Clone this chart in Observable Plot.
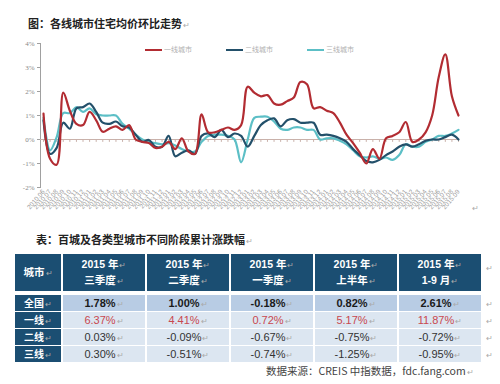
<!DOCTYPE html>
<html><head><meta charset="utf-8">
<script src="https://cdn.jsdelivr.net/npm/d3@7"></script>
<script src="https://cdn.jsdelivr.net/npm/@observablehq/plot@0.6"></script>
<style>
body{margin:0;background:#fff;}
#wrap{position:relative;width:500px;height:384px;overflow:hidden;font-family:"Noto Sans CJK SC","Liberation Sans",sans-serif;}
.abs{position:absolute;white-space:nowrap;}
.ret{color:#aaa;font-size:8px;font-weight:normal;margin-left:1px;}
#title{left:28px;top:15px;font-size:11px;font-weight:700;color:#222;}
#chart{position:absolute;left:0;top:30px;}
.leg{position:absolute;top:44px;font-size:7px;color:#b0b0b0;height:10px;line-height:10px;}
.leg i{display:inline-block;width:17px;height:2.5px;vertical-align:middle;margin-right:2px;}
#ttitle{left:36px;top:231px;font-size:11px;font-weight:700;color:#222;}
#tbl{position:absolute;left:15px;top:254px;display:grid;grid-template-columns:46px 82px 82px 82px 82px 82px;column-gap:2px;row-gap:1px;}
.hd{background:#1b4e72;color:#fff;font-weight:700;font-size:10.5px;height:37px;display:flex;flex-direction:column;justify-content:center;align-items:center;line-height:14px;margin-bottom:3px;}
.hd span{font-family:"Liberation Sans","Noto Sans CJK SC",sans-serif;}
.rl{background:#1b4e72;color:#fff;font-weight:700;font-size:10px;height:16px;line-height:16px;text-align:center;}
.dc{height:16px;line-height:16px;text-align:center;font-family:"Liberation Sans",sans-serif;font-size:11px;color:#333;background:#dce6f1;}
.dc.nat{background:#b8cce4;font-weight:700;color:#1a1a1a;}
.dc.red{color:#c8484f;}
#source{left:266px;top:363px;font-size:10.5px;color:#444;}
.rr{position:absolute;left:486px;color:#aaa;font-size:8px;}
</style></head><body>
<div id="wrap">
  <div id="title" class="abs">图：各线城市住宅均价环比走势<span class="ret">↵</span></div>
  <div id="chart"></div>
  <div id="legend"></div>
  <div class="abs" style="left:472px;top:202px;color:#aaa;font-size:8px;">↵</div>
  <div id="ttitle" class="abs">表：百城及各类型城市不同阶段累计涨跌幅<span class="ret">↵</span></div>
  <div id="tbl"></div>
  <div id="rets"></div>
  <div id="source" class="abs">数据来源：CREIS 中指数据，fdc.fang.com<span class="ret">↵</span></div>
</div>
<script>
// ---- chart data ----
const months = ["2010.06","2010.07","2010.08","2010.09","2010.10","2010.11","2010.12",
"2011.01","2011.02","2011.03","2011.04","2011.05","2011.06","2011.07","2011.08","2011.09","2011.10","2011.11","2011.12",
"2012.01","2012.02","2012.03","2012.04","2012.05","2012.06","2012.07","2012.08","2012.09","2012.10","2012.11","2012.12",
"2013.01","2013.02","2013.03","2013.04","2013.05","2013.06","2013.07","2013.08","2013.09","2013.10","2013.11","2013.12",
"2014.01","2014.02","2014.03","2014.04","2014.05","2014.06","2014.07","2014.08","2014.09","2014.10","2014.11","2014.12",
"2015.01","2015.02","2015.03","2015.04","2015.05","2015.06","2015.07","2015.08","2015.09"];
const seriesNames = ["一线城市","二线城市","三线城市"];
const seriesColors = ["#b22c32","#23506a","#5cbfc6"];
const tier1 = [1.08,-0.8,-1.05,1.95,1.2,0.65,0.6,1.15,0.8,0.32,
  0.45,0.55,0.4,0.6,0.0,-0.1,-0.15,-0.35,-0.3,-0.1,
  -0.4,0.05,-0.5,-0.6,1.05,0.3,0.3,0.4,0.5,0.4,
  0.6,2.2,1.95,1.8,1.85,1.5,1.45,1.6,1.75,2.4,
  2.3,1.3,1.35,1.2,1.1,0.7,0.2,-0.15,-0.55,-1.0,
  -0.4,-0.8,0.05,0.15,0.3,0.73,-0.1,0.0,0.3,1.0,
  2.6,3.55,1.8,1.0];
const tier2 = [0.8,-0.6,-0.35,0.7,0.45,1.3,1.35,1.5,1.15,0.7,
  0.65,0.75,0.55,0.5,0.2,-0.1,-0.02,-0.3,-0.3,0.15,
  -0.7,-0.55,-0.45,-0.6,0.15,0.25,0.1,0.4,0.1,0.25,
  0.15,-0.3,0.15,0.6,0.8,0.88,0.55,0.8,0.85,0.7,
  0.7,0.7,0.2,0.2,0.15,0.05,-0.1,-0.4,-0.65,-0.9,
  -0.95,-0.85,-0.65,-0.5,-0.3,-0.2,-0.3,-0.2,-0.05,0.0,
  0.0,0.1,0.2,0.0];
const tier3 = [0.9,-0.45,0.1,1.1,1.1,1.35,1.15,1.3,1.05,1.0,
  1.0,1.0,0.65,0.45,0.2,0.0,-0.1,-0.15,-0.2,-0.15,
  -0.25,-0.4,-0.5,-0.5,-0.1,0.15,0.2,0.2,0.15,0.0,
  -0.95,0.0,0.9,0.95,0.95,0.75,0.45,0.4,0.5,0.5,
  0.4,0.4,0.0,0.05,0.05,-0.05,-0.2,-0.45,-0.7,-0.75,
  -0.7,-0.8,-0.75,-0.85,-0.65,-0.2,-0.3,-0.3,-0.1,0.0,
  0.15,0.15,0.25,0.4];
const yTicks = [-2,-1,0,1,2,3,4];

// ---- table data ----
const colYear = ["2015 年","2015 年","2015 年","2015 年","2015 年"];
const colPeriod = ["三季度","二季度","一季度","上半年","1-9 月"];
const rowLabels = ["全国","一线","二线","三线"];
const rowNational = [1.78,1.00,-0.18,0.82,2.61];
const rowTier1 = [6.37,4.41,0.72,5.17,11.87];
const rowTier2 = [0.03,-0.09,-0.67,-0.75,-0.72];
const rowTier3 = [0.30,-0.51,-0.74,-1.25,-0.95];

const allSeries = [tier1, tier2, tier3];
const data = [];
[2,1,0].forEach(s => months.forEach((m,i) => data.push({m, v: allSeries[s][i], s: seriesNames[s]})));

const chart = Plot.plot({
  width: 500, height: 190,
  marginTop: 13, marginBottom: 33, marginLeft: 40, marginRight: 42,
  x: {type: "point", domain: months, padding: 0, insetLeft: 3, label: null},
  y: {domain: [-2, 4], label: null},
  color: {domain: seriesNames, range: seriesColors},
  style: {fontFamily: "Liberation Serif", background: "transparent"},
  marks: [
    Plot.frame({anchor: "left", stroke: "#a0a0a0"}),
    Plot.ruleY([0], {stroke: "#c9b1aa"}),
    Plot.ruleX(months, {x: d => d, y1: 0, y2: -0.12, stroke: "#c9b1aa"}),
    Plot.axisY({ticks: yTicks, tickFormat: d => d + "%", tickSize: 3, tickPadding: 3, fontSize: 7, fill: "#888", stroke: "#a0a0a0"}),
    Plot.axisX({tickRotate: -50, tickSize: 0, tickPadding: 3, fontSize: 6.5, fill: "#999", fontFamily: "Liberation Sans"}),
    Plot.line(data, {x: "m", y: "v", z: "s", stroke: "s", strokeWidth: 2.2, curve: "catmull-rom"})
  ]
});
document.getElementById("chart").appendChild(chart);

// legend
const legX = [145, 226, 307];
const leg = document.getElementById("legend");
seriesNames.forEach((n,i) => {
  const d = document.createElement("div");
  d.className = "leg";
  d.style.left = legX[i] + "px";
  d.innerHTML = `<i style="background:${seriesColors[i]}"></i>${n}`;
  leg.appendChild(d);
});

// table
const tbl = d3.select("#tbl");
tbl.append("div").attr("class","hd").html(`<span>城市<span class="ret">↵</span></span>`);
colYear.forEach((y,i) => {
  tbl.append("div").attr("class","hd").html(`<span>${y}<span class="ret">↵</span></span><span>${colPeriod[i]}<span class="ret">↵</span></span>`);
});
const rows = [rowNational, rowTier1, rowTier2, rowTier3];
rows.forEach((r,ri) => {
  tbl.append("div").attr("class","rl").html(`${rowLabels[ri]}<span class="ret">↵</span>`);
  r.forEach(v => {
    tbl.append("div").attr("class", "dc" + (ri===0 ? " nat" : "") + (ri===1 ? " red" : ""))
      .html(`${v.toFixed(2)}%<span class="ret">↵</span>`);
  });
});
const rets = d3.select("#rets");
[262, 298, 315, 332, 349].forEach(t => rets.append("div").attr("class","rr").style("top", t + "px").text("↵"));
</script>
</body></html>
